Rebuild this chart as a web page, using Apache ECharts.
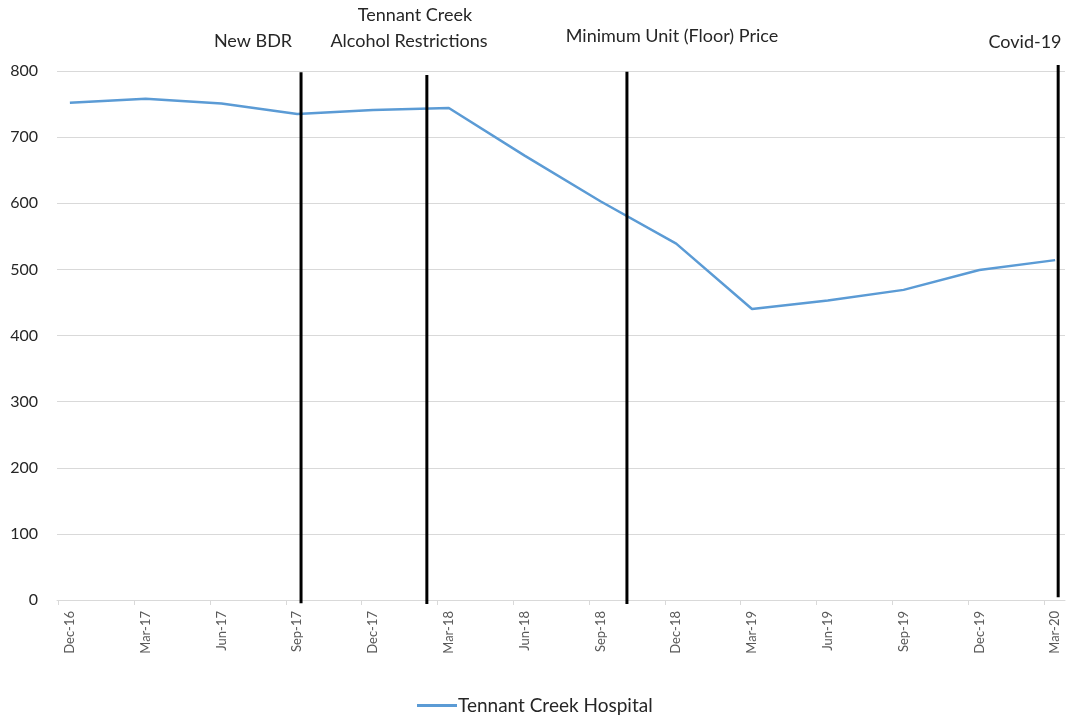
<!DOCTYPE html>
<html>
<head>
<meta charset="utf-8">
<script src="https://cdn.jsdelivr.net/npm/echarts@6/dist/echarts.min.js"></script>
<style>
html,body{margin:0;padding:0;background:#fff;}
#chart{width:1082px;height:715px;}
</style>
</head>
<body>
<div id="chart"></div>
<script>
// ---- data ----
var categories = ['Dec-16','Mar-17','Jun-17','Sep-17','Dec-17','Mar-18','Jun-18','Sep-18','Dec-18','Mar-19','Jun-19','Sep-19','Dec-19','Mar-20'];
var hospitalValues = [752, 758, 751, 735, 741, 744, 672, 603, 539, 440, 453, 469, 499, 514];
var seriesName = 'Tennant Creek Hospital';
var yTicks = [0, 100, 200, 300, 400, 500, 600, 700, 800];
// event markers (x position in quarter index units, line top / bottom values)
var eventNames = ['New BDR', 'Tennant Creek\nAlcohol Restrictions', 'Minimum Unit (Floor) Price', 'Covid-19'];
var eventX = [3.05, 4.71, 7.35, 13.04];
var eventTop = [798, 794, 799, 809];
var eventBottom = [-5, -6, -6, 4];

// ---- build ----
var lineData = hospitalValues.map(function(v, i){ return [i, v]; });
var labelValues = categories.map(function(c, i){ return i; });
var tickValues = categories.map(function(c, i){ return i - 0.15; });

var FONT = 'Lato';
var TXT = '#262626';

var series = [{
  name: seriesName,
  type: 'line',
  data: lineData,
  showSymbol: false,
  symbol: 'none',
  lineStyle: {color: '#5b9bd5', width: 2.5},
  itemStyle: {color: '#5b9bd5'},
  z: 2
}];
eventX.forEach(function(x, i){
  series.push({
    name: 'event' + i,
    type: 'line',
    data: [[x, eventTop[i]], [x, eventBottom[i]]],
    showSymbol: false,
    symbol: 'none',
    clip: false,
    silent: true,
    lineStyle: {color: '#000000', width: 3},
    z: 5
  });
});

// annotation text placement (centre x, centre y of each text line)
var annLines = [
  {text: eventNames[0], x: 253, y: 41},
  {text: eventNames[1].split('\n')[0], x: 415, y: 15},
  {text: eventNames[1].split('\n')[1], x: 409, y: 41},
  {text: eventNames[2], x: 672, y: 36},
  {text: eventNames[3], x: 1025, y: 42}
];
var graphics = annLines.map(function(a){
  return {type: 'text', x: a.x, y: a.y, style: {text: a.text, font: '18px Lato', fill: TXT, textAlign: 'center', textVerticalAlign: 'middle'}};
});

var chart = echarts.init(document.getElementById('chart'));
chart.setOption({
  animation: false,
  backgroundColor: '#ffffff',
  grid: {left: 57, right: 17, top: 71, bottom: 115, containLabel: false},
  xAxis: {
    type: 'value',
    min: -0.17,
    max: 13.13,
    axisLine: {show: true, lineStyle: {color: '#d9d9d9', width: 1}},
    axisTick: {show: true, customValues: tickValues, length: 5, lineStyle: {color: '#d9d9d9'}},
    axisLabel: {
      customValues: labelValues,
      rotate: 90,
      margin: 11,
      fontFamily: FONT,
      fontSize: 13,
      color: '#595959',
      formatter: function(v){ return categories[Math.round(v)] || ''; }
    },
    splitLine: {show: false}
  },
  yAxis: {
    type: 'value',
    min: yTicks[0],
    max: yTicks[yTicks.length - 1],
    interval: 100,
    axisLine: {show: false},
    axisTick: {show: false},
    axisLabel: {margin: 19, fontFamily: FONT, fontSize: 16, color: TXT},
    splitLine: {lineStyle: {color: '#d9d9d9', width: 1}}
  },
  legend: {
    top: 691,
    left: 412,
    icon: 'rect',
    itemWidth: 40,
    itemHeight: 3,
    itemGap: 10,
    textStyle: {fontFamily: FONT, fontSize: 19, color: TXT, padding: [0,0,0,-4]},
    data: [seriesName]
  },
  series: series,
  graphic: graphics
});
</script>
</body>
</html>
